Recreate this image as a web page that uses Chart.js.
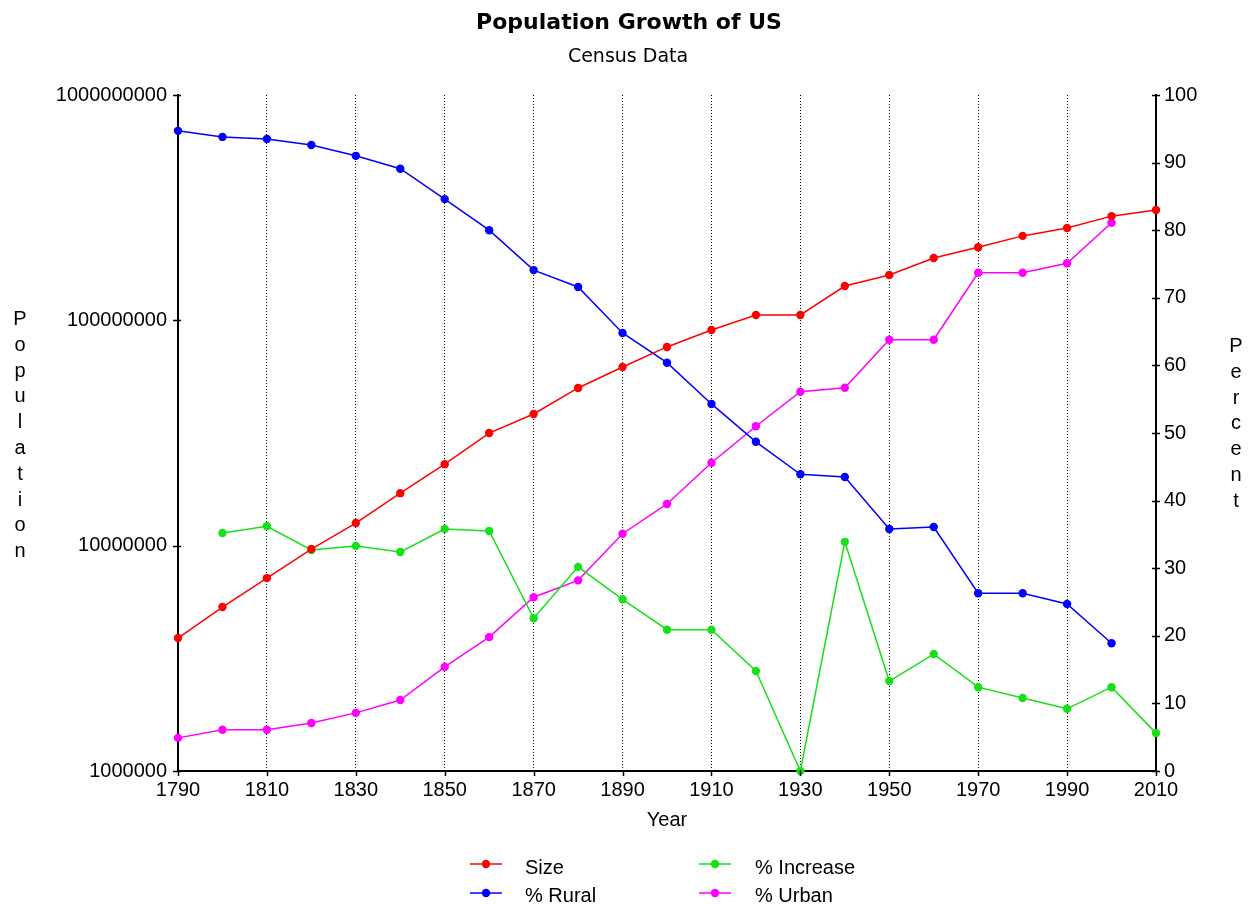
<!DOCTYPE html>
<html>
<head>
<meta charset="utf-8">
<title>Population Growth of US</title>
<script src="https://cdn.jsdelivr.net/npm/chart.js@4.4.1/dist/chart.umd.min.js"></script>
<style>
  html, body { margin: 0; padding: 0; background: #ffffff; }
  #wrap { width: 1254px; height: 904px; position: relative; }
</style>
</head>
<body>
<div id="wrap"><canvas id="chart" width="1254" height="904"></canvas></div>
<script>
// Census decades
const years = [1790, 1800, 1810, 1820, 1830, 1840, 1850, 1860, 1870, 1880, 1890, 1900,
               1910, 1920, 1930, 1940, 1950, 1960, 1970, 1980, 1990, 2000, 2010];

// Total population (left, log axis)
const sizeValues = [3890000, 5340000, 7180000, 9660000, 12600000, 17100000, 23000000,
                    31600000, 38400000, 50100000, 62100000, 76200000, 90600000, 105600000,
                    105600000, 142000000, 159000000, 189000000, 211000000, 237000000,
                    257000000, 290000000, 309000000];

// Percent series (right axis)
const ruralValues = [94.7, 93.8, 93.5, 92.6, 91.0, 89.1, 84.6, 80.0, 74.1, 71.6, 64.8, 60.4,
                     54.3, 48.7, 43.9, 43.5, 35.8, 36.1, 26.3, 26.3, 24.7, 18.9, null];
const increaseValues = [null, 35.2, 36.2, 32.7, 33.3, 32.4, 35.8, 35.5, 22.6, 30.2, 25.4, 20.9,
                        20.9, 14.8, 0, 33.9, 13.3, 17.3, 12.4, 10.8, 9.2, 12.4, 5.6];
const urbanValues = [4.9, 6.1, 6.1, 7.1, 8.6, 10.5, 15.4, 19.8, 25.7, 28.2, 35.1, 39.5,
                     45.6, 51.0, 56.1, 56.7, 63.8, 63.8, 73.7, 73.7, 75.1, 81.1, null];

// Axis tick values
const populationTicks = [1000000, 10000000, 100000000, 1000000000];
const yearTickStep = 20;
const percentTickStep = 10;

const seriesNames = ['Size', '% Rural', '% Increase', '% Urban'];
const seriesColors = ['#ff0000', '#0000ff', '#18e018', '#ff00ff'];

const TICK_FONT = { family: 'Liberation Sans, Arial, sans-serif', size: 20 };

function pairs(values) {
  return years.map((yr, i) => ({ x: yr, y: values[i] }));
}

function makeSeries(idx, values, axis) {
  return {
    label: seriesNames[idx],
    data: pairs(values),
    yAxisID: axis,
    borderColor: seriesColors[idx],
    backgroundColor: seriesColors[idx],
    pointBackgroundColor: seriesColors[idx],
    pointBorderColor: seriesColors[idx],
    pointBorderWidth: 0,
    pointRadius: 4.2,
    pointHoverRadius: 4.2,
    borderWidth: 1.5,
    tension: 0,
    spanGaps: false,
    clip: false
  };
}

// Headings, stacked axis captions, tick marks and the two-column key
const decorations = {
  id: 'decorations',
  afterDraw(chart) {
    const ctx = chart.ctx;
    const area = chart.chartArea;
    ctx.save();
    ctx.fillStyle = '#000';
    ctx.textBaseline = 'alphabetic';
    ctx.textAlign = 'center';

    ctx.font = 'bold 22px "DejaVu Sans", sans-serif';
    ctx.fillText('Population Growth of US', 629, 28.5);
    ctx.font = '19px "DejaVu Sans", sans-serif';
    ctx.fillText('Census Data', 628, 61.5);

    // stacked axis captions
    ctx.font = '20px "Liberation Sans", Arial, sans-serif';
    const step = 25.8;
    'Population'.split('').forEach((ch, i) => ctx.fillText(ch, 20, 325 + i * step));
    'Percent'.split('').forEach((ch, i) => ctx.fillText(ch, 1236, 352 + i * step));

    // tick marks
    ctx.strokeStyle = '#000';
    ctx.lineWidth = 1.5;
    const xs = chart.scales.x, yl = chart.scales.yPop, yr = chart.scales.yPct;
    ctx.beginPath();
    xs.ticks.forEach(t => {
      const px = Math.round(xs.getPixelForValue(t.value)) + 0.5;
      ctx.moveTo(px, area.bottom - 1); ctx.lineTo(px, area.bottom + 5);
    });
    yl.ticks.forEach(t => {
      const py = Math.round(yl.getPixelForValue(t.value)) + 0.5;
      ctx.moveTo(area.left - 5, py); ctx.lineTo(area.left + 3, py);
    });
    yr.ticks.forEach(t => {
      const py = Math.round(yr.getPixelForValue(t.value)) + 0.5;
      ctx.moveTo(area.right - 4, py); ctx.lineTo(area.right + 4, py);
    });
    ctx.stroke();

    // key: column-major, two rows
    ctx.textAlign = 'left';
    ctx.font = '20px "Liberation Sans", Arial, sans-serif';
    const cols = [{ line: 470, text: 525 }, { line: 699, text: 755 }];
    const rows = [{ mark: 864, base: 873.5 }, { mark: 893, base: 901.5 }];
    chart.data.datasets.forEach((ds, i) => {
      const c = cols[Math.floor(i / 2)], r = rows[i % 2];
      ctx.strokeStyle = ds.borderColor;
      ctx.lineWidth = 1.5;
      ctx.beginPath();
      ctx.moveTo(c.line, r.mark); ctx.lineTo(c.line + 32, r.mark);
      ctx.stroke();
      ctx.fillStyle = ds.borderColor;
      ctx.beginPath();
      ctx.arc(c.line + 16, r.mark, 4.2, 0, Math.PI * 2);
      ctx.fill();
      ctx.fillStyle = '#000';
      ctx.fillText(ds.label, c.text, r.base);
    });
    ctx.restore();
  }
};

new Chart(document.getElementById('chart'), {
  type: 'line',
  data: {
    datasets: [
      makeSeries(0, sizeValues, 'yPop'),
      makeSeries(1, ruralValues, 'yPct'),
      makeSeries(2, increaseValues, 'yPct'),
      makeSeries(3, urbanValues, 'yPct')
    ]
  },
  options: {
    responsive: false,
    animation: false,
    events: [],
    layout: { padding: { top: 95, left: 0, right: 0, bottom: 0 } },
    plugins: {
      legend: { display: false },
      tooltip: { enabled: false },
      title: { display: false }
    },
    scales: {
      x: {
        type: 'linear',
        position: 'bottom',
        min: years[0],
        max: years[years.length - 1],
        afterFit(scale) { scale.height = 133; },
        ticks: {
          stepSize: yearTickStep,
          color: '#000',
          font: TICK_FONT,
          padding: 7,
          maxRotation: 0,
          autoSkip: false,
          callback: v => String(v)
        },
        grid: {
          drawTicks: false,
          lineWidth: 1,
          color: c => (c.tick && (c.tick.value === years[0] || c.tick.value === years[years.length - 1]))
            ? 'rgba(0,0,0,0)' : '#000'
        },
        border: { display: true, color: '#000', width: 2, dash: [1, 2] },
        title: {
          display: true,
          text: 'Year',
          color: '#000',
          font: TICK_FONT,
          padding: { top: 0, bottom: 72 }
        }
      },
      yPop: {
        type: 'logarithmic',
        position: 'left',
        min: populationTicks[0],
        max: populationTicks[populationTicks.length - 1],
        afterFit(scale) { scale.width = 178; },
        afterBuildTicks(scale) { scale.ticks = populationTicks.map(v => ({ value: v })); },
        ticks: {
          color: '#000',
          font: TICK_FONT,
          padding: 11,
          callback: v => String(v)
        },
        grid: { display: false, drawTicks: false },
        border: { display: true, color: '#000', width: 2 }
      },
      yPct: {
        type: 'linear',
        position: 'right',
        min: 0,
        max: 100,
        afterFit(scale) { scale.width = 98; },
        ticks: {
          stepSize: percentTickStep,
          color: '#000',
          font: TICK_FONT,
          padding: 8,
          callback: v => String(v)
        },
        grid: { display: false, drawTicks: false },
        border: { display: true, color: '#000', width: 2 }
      }
    }
  },
  plugins: [decorations]
});
</script>
</body>
</html>
